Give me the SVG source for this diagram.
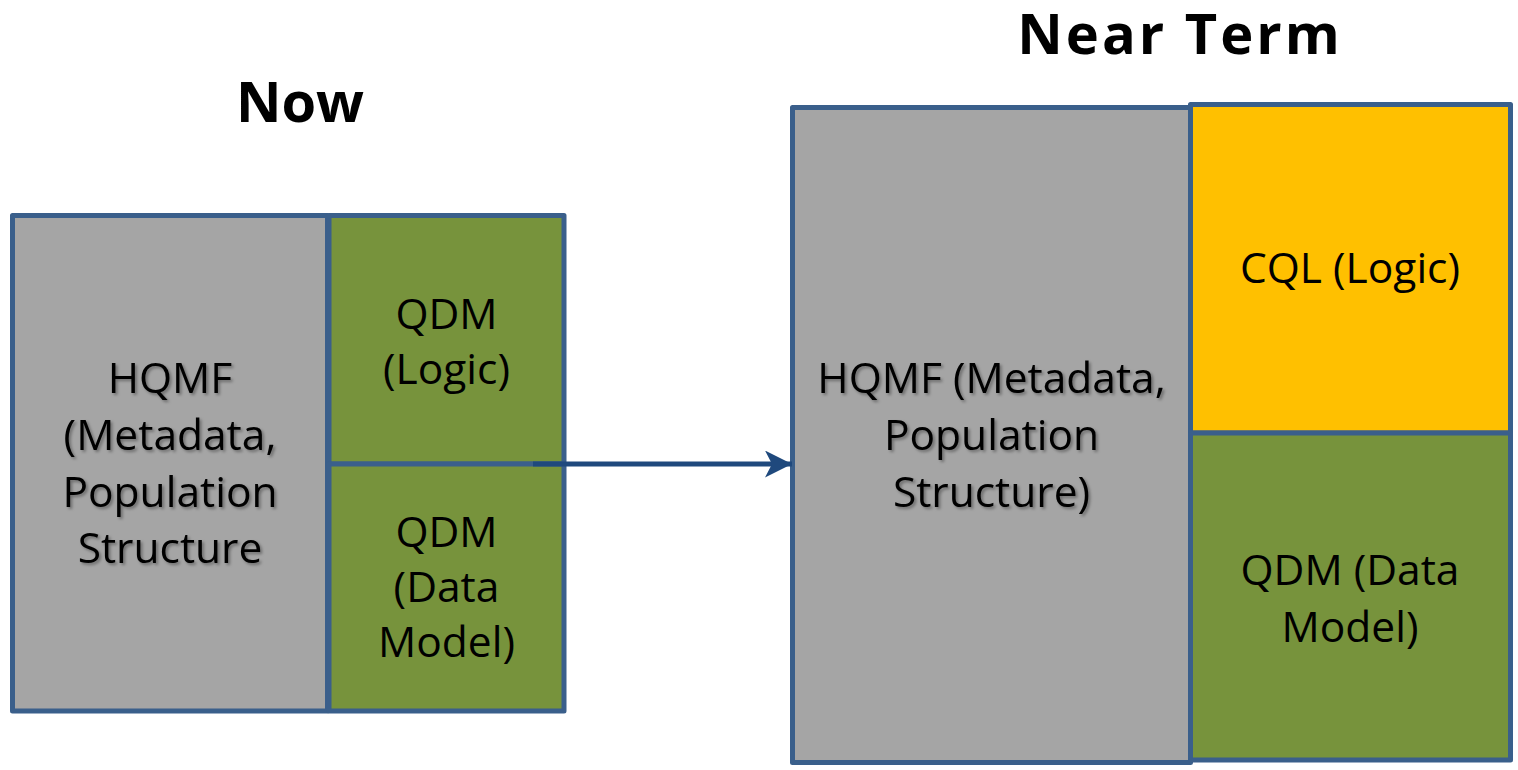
<svg xmlns="http://www.w3.org/2000/svg" width="1518" height="770" viewBox="0 0 1518 770">
  <style>
    .box { stroke: #3A5F8B; stroke-width: 5; stroke-linejoin: round; }
    .gray { fill: #A5A5A5; }
    .green { fill: #77933C; }
    .gold { fill: #FFC000; }
    .lbl { font-family: "Open Sans", Lato, "Liberation Sans", sans-serif; font-size: 42.5px; fill: #000; text-anchor: middle; }
    .shadowed { filter: url(#txtShadow); }
    .title { font-family: "Open Sans", Lato, "Liberation Sans", sans-serif; font-weight: bold; font-size: 56px; fill: #000; text-anchor: middle; }
  </style>
  <defs>
    <filter id="txtShadow" x="-10%" y="-20%" width="130%" height="150%">
      <feDropShadow dx="2" dy="2" stdDeviation="1.5" flood-color="#000" flood-opacity="0.35"/>
    </filter>
    <marker id="stealth" markerUnits="userSpaceOnUse" markerWidth="30" markerHeight="30" refX="27" refY="13.5" orient="auto">
      <path d="M0,0 L27,13.5 L0,27 L7,13.5 Z" fill="#1F497D"/>
    </marker>
  </defs>

  <!-- titles -->
  <text class="title" x="300" y="122">Now</text>
  <text class="title" x="1180" y="54" letter-spacing="3">Near Term</text>

  <!-- current structure -->
  <g id="now-hqmf">
    <rect class="box gray" x="12.5" y="215.5" width="315" height="495.5"/>
    <text class="lbl shadowed" x="170" y="393">HQMF</text>
    <text class="lbl shadowed" x="170" y="450">(Metadata,</text>
    <text class="lbl shadowed" x="170" y="507">Population</text>
    <text class="lbl shadowed" x="170" y="563">Structure</text>
  </g>
  <g id="now-qdm-logic">
    <rect class="box green" x="329" y="215.5" width="235" height="248.5"/>
    <text class="lbl" x="446.5" y="329">QDM</text>
    <text class="lbl" x="446.5" y="384">(Logic)</text>
  </g>
  <g id="now-qdm-data">
    <rect class="box green" x="329" y="464" width="235" height="247"/>
    <text class="lbl" x="446.5" y="547">QDM</text>
    <text class="lbl" x="446.5" y="602">(Data</text>
    <text class="lbl" x="446.5" y="657">Model)</text>
  </g>

  <!-- near-term structure -->
  <g id="near-hqmf">
    <rect class="box gray" x="792.5" y="107.5" width="398" height="655"/>
    <text class="lbl shadowed" x="991.5" y="393">HQMF (Metadata,</text>
    <text class="lbl shadowed" x="991.5" y="450">Population</text>
    <text class="lbl shadowed" x="991.5" y="507">Structure)</text>
  </g>
  <g id="near-cql">
    <rect class="box gold" x="1190.5" y="104.5" width="320" height="328.5"/>
    <text class="lbl" x="1350" y="283">CQL (Logic)</text>
  </g>
  <g id="near-qdm">
    <rect class="box green" x="1190.5" y="433" width="320" height="327"/>
    <text class="lbl" x="1350" y="585">QDM (Data</text>
    <text class="lbl" x="1350" y="642">Model)</text>
  </g>

  <!-- connectors -->
  <g id="connectors">
    <line x1="533" y1="464" x2="792" y2="464" stroke="#1F497D" stroke-width="5" marker-end="url(#stealth)"/>
  </g>
</svg>
